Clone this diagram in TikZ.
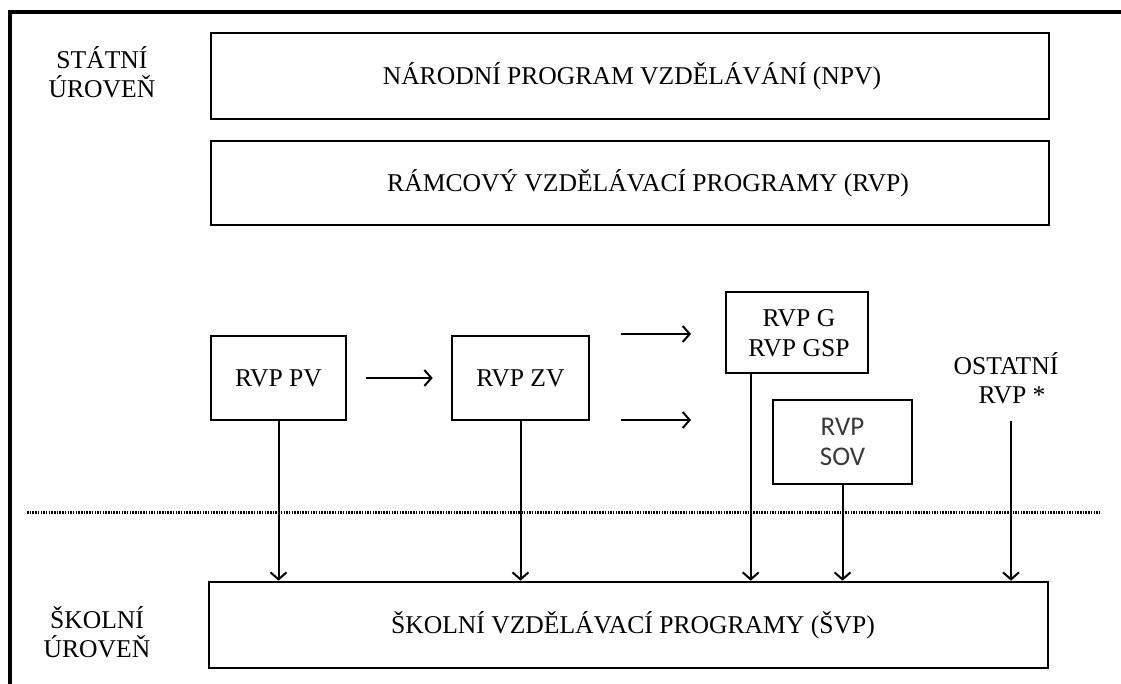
\documentclass[tikz,border=0pt]{standalone}
\usepackage{fontspec}
\setmainfont{Liberation Serif}
\newfontfamily\sovfont{Carlito}
\usetikzlibrary{arrows.meta}
\definecolor{sovgray}{HTML}{3A3A3A}
\tikzset{
  box/.style={draw=black, line width=2.6pt, inner sep=0pt, anchor=center},
  lbl/.style={inner sep=0pt, align=center, font=\fontsize{25.6}{29.5}\selectfont},
  conn/.style={line width=2pt, -{Straight Barb[length=7pt,width=16pt,line width=2pt]}},
  plain/.style={line width=2pt},
  frame/.style={line width=4pt},
  sep/.style={line width=3pt, dash pattern=on 1.5pt off 1.2pt}
}
\begin{document}
\begin{tikzpicture}[x=1pt,y=-1pt]
\useasboundingbox (0,0) rectangle (1121,684);
% outer frame (top and left only)
\coordinate (fa) at (1121,12);
\coordinate (fb) at (10,12);
\coordinate (fc) at (10,684);
\draw[frame] (fa) -- (fb) -- (fc);

% level labels
\node[lbl] (statni) at (102,72) {STÁTNÍ\\ÚROVEŇ};
\node[lbl] (skolni) at (97,632) {ŠKOLNÍ\\ÚROVEŇ};

% top boxes
\node[box, minimum width=838pt, minimum height=86pt] (npv) at (630,76) {};
\node[lbl] (npvt) at (632,76) {NÁRODNÍ PROGRAM VZDĚLÁVÁNÍ (NPV)};
\node[box, minimum width=838pt, minimum height=84pt] (rvp) at (630,183) {};
\node[lbl] (rvpt) at (648,183) {RÁMCOVÝ VZDĚLÁVACÍ PROGRAMY (RVP)};

% middle boxes
\node[box, minimum width=135pt, minimum height=84pt, lbl] (pv) at (278.5,378) {RVP PV};
\node[box, minimum width=137pt, minimum height=84pt, lbl] (zv) at (520.5,378) {RVP ZV};
\node[box, minimum width=142pt, minimum height=81pt] (g) at (797,332.5) {};
\node[lbl] (gt) at (799,333) {RVP G\\RVP GSP};
\node[box, minimum width=139pt, minimum height=84pt, align=center, text=sovgray,
      font=\sovfont\fontsize{27}{30}\selectfont] (sov) at (842.5,442) {RVP\\SOV};
\node[lbl] (ost) at (1006,378) {OSTATNÍ\\\hspace*{12pt}RVP *};

% bottom box
\node[box, minimum width=839pt, minimum height=86pt] (svp) at (628.5,625) {};
\node[lbl] (svpt) at (633,625) {ŠKOLNÍ VZDĚLÁVACÍ PROGRAMY (ŠVP)};

% separator
\coordinate (s1) at (27,512);
\coordinate (s2) at (1099,512);
\draw[sep] (s1) -- (s2);

% horizontal arrows
\draw[conn, shorten <=19pt, shorten >=18pt] (pv.east) -- (zv.west);
\coordinate (h1a) at (621,334);
\coordinate (h1b) at (691,334);
\coordinate (h2a) at (621,420);
\coordinate (h2b) at (691,420);
\draw[conn] (h1a) -- (h1b);
\draw[conn] (h2a) -- (h2b);

% vertical arrows
\draw[conn] (pv.south) -- (pv.south |- svp.north);
\draw[conn] (zv.south) -- (zv.south |- svp.north);
\coordinate (gl) at ([xshift=26pt]g.south west);
\draw[conn] (gl) -- (gl |- svp.north);
\draw[conn] (sov.south) -- (sov.south |- svp.north);
\coordinate (ol) at (1011,421);
\draw[conn] (ol) -- (ol |- svp.north);
\end{tikzpicture}
\end{document}
